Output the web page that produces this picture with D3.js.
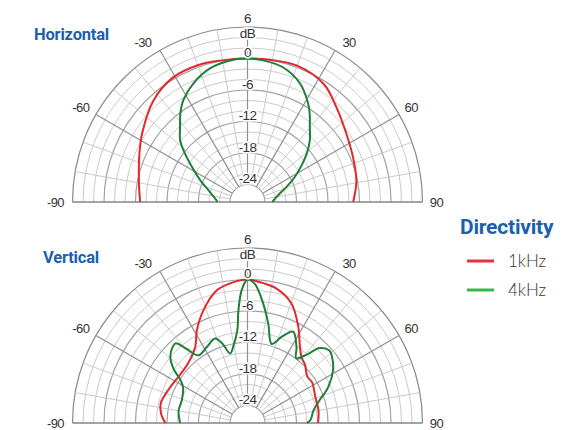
<!DOCTYPE html>
<html>
<head>
<meta charset="utf-8">
<script src="https://cdn.jsdelivr.net/npm/d3@7"></script>
<style>
  body { margin: 0; background: #fff; }
  svg { display: block; }
</style>
</head>
<body>
<svg id="chart"></svg>
<script>
const width = 581;
const height = 430;

// grid / ticks
const dbLabels = [0, -6, -12, -18, -24];
const angleLabels = [-90, -60, -30, 30, 60, 90];
const seriesNames = ['1kHz', '4kHz'];
const seriesColors = ['#e2282f', '#1f7f36'];
const legendColors = ['#e8323a', '#3db44c'];

// Horizontal, 1kHz
const hAng1k = [-90, -84, -75, -66, -57, -43, -31, -20, -11, 0, 9, 20, 33, 43, 55, 67, 79, 90];
const hDb1k  = [-6.9, -6.6, -5.9, -4.8, -3.4, -1.0, 0.3, 0.4, 0.1, 0, 0.1, 0.3, -0.6, -2.55, -4.4, -5.5, -6.2, -7.2];

// Horizontal, 4kHz
const hAng4k = [-90, -88, -73, -65.2, -57.7, -52.1, -47.4, -41.9, -37, -32.2, -24.5, -15.7, -5.7, 0,
                6.2, 14.7, 23.8, 31.6, 35.7, 39.8, 45.2, 50.6, 55.7, 62, 68.7, 77.2, 86.7, 90];
const hDb4k  = [-21.6, -21.5, -19.5, -17.4, -14.8, -12.2, -9.9, -8.1, -6.1, -4.4, -2.5, -0.9, -0.1, 0,
                -0.2, -0.8, -2.6, -5.3, -7.0, -8.8, -10.6, -12.7, -14.8, -17.1, -19.3, -21.3, -22.4, -22.6];

// Vertical, 1kHz
const vAng1k = [-90, -84, -77, -67, -56, -45, -34.5, -28.6, -21.4, -13, -6, 0, 4, 12, 20, 27.6, 34, 39.3, 45, 52, 58, 69, 80, 90];
const vDb1k  = [-11.7, -10.8, -10.4, -11.0, -11.5, -11.3, -9.75, -7.2, -4.3, -1.4, -0.4, 0, -0.3, -1.1, -3.0, -6.5, -9.5, -11.1, -11.8, -12.9, -12.8, -13.5, -13.6, -13.9];

// Vertical, 4kHz
const vAng4k = [-90, -80, -71, -61, -57, -54, -49.5, -44.5, -42, -39.5, -36, -28, -21, -17.5, -14, -10.5, -6.3, -4.6, -2.5, 0,
                3, 7.5, 11.8, 17, 21.6, 26.5, 32.8, 37, 41, 44, 48.5, 52, 58, 66, 72.4, 79, 87, 90];
const vDb4k  = [-14.5, -14.0, -14.1, -13.3, -12.0, -10.0, -8.0, -7.0, -6.9, -9.0, -11.4, -10.9, -10.1, -11.5, -13.7, -12.5, -9.6, -5.8, -2.0, 0,
                -0.8, -4.4, -8.0, -11.6, -9.7, -7.9, -10.1, -11.9, -10.0, -7.5, -6.5, -6.9, -8.1, -10.5, -12.9, -14.5, -15.3, -16.0];

const svg = d3.select('#chart')
            .attr('width', width)
            .attr('height', height);

const r = d3.scaleLinear().domain([-24, 6]).range([17.5, 175]);
const rad = a => a * Math.PI / 180;

const numFont = '"Liberation Sans", Arial, sans-serif';
const titleColor = '#1b5fae';

function zip(angles, values) {
    return angles.map((a, i) => ({a: a, v: values[i]}));
}

function drawPolar(cx, cy, title, titleX, titleY, series) {
    const g = svg.append('g').attr('transform', `translate(${cx}, ${cy})`);

    // rings every 2 dB
    d3.range(-24, 7, 2).forEach(db => {
        const p = d3.path();
        p.arc(0, 0, r(db), Math.PI, 2 * Math.PI);
        const major = db % 6 === 0;
        g.append('path')
            .attr('d', p.toString())
            .attr('fill', 'none')
            .attr('stroke', db === 6 ? '#8a8a8a' : (major ? '#a2a2a2' : '#c4c4c4'))
            .attr('stroke-width', major ? 1.2 : 0.9);
    });

    // spokes every 10 degrees
    d3.range(-80, 81, 10).forEach(a => {
        const major = a % 30 === 0;
        g.append('line')
            .attr('x1', r(-24) * Math.sin(rad(a)))
            .attr('y1', -r(-24) * Math.cos(rad(a)))
            .attr('x2', r(6) * Math.sin(rad(a)))
            .attr('y2', -r(6) * Math.cos(rad(a)))
            .attr('stroke', major ? '#909090' : '#c4c4c4')
            .attr('stroke-width', major ? 1.2 : 0.9);
    });

    // baseline
    g.append('line')
        .attr('x1', -r(6)).attr('x2', r(6))
        .attr('y1', 0).attr('y2', 0)
        .attr('stroke', '#858585')
        .attr('stroke-width', 1.4);

    // curves
    const line = d3.lineRadial()
        .angle(d => rad(d.a))
        .radius(d => r(d.v))
        .curve(d3.curveCatmullRom.alpha(0.5));

    series.forEach((s, i) => {
        g.append('path')
            .datum(s)
            .attr('d', line)
            .attr('fill', 'none')
            .attr('stroke', seriesColors[i])
            .attr('stroke-width', 2);
    });

    // dB labels on the centre line
    const lab = g.append('g')
        .attr('font-family', numFont)
        .attr('font-size', 13.5)
        .attr('fill', '#333')
        .attr('text-anchor', 'middle')
        .attr('letter-spacing', -0.6)
        .attr('stroke', '#fff')
        .attr('stroke-width', 3)
        .attr('paint-order', 'stroke');

    dbLabels.forEach(db => {
        lab.append('text')
            .attr('x', 0)
            .attr('y', -r(db) - 1.5)
            .text(db === 0 ? '0' : '-' + Math.abs(db));
    });
    lab.append('text').attr('x', 0).attr('y', -r(4) + 0.5).text('dB');
    lab.append('text').attr('x', 0).attr('y', -r(6) - 4).attr('stroke', 'none').text('6');

    // angle labels
    angleLabels.forEach(a => {
        let aa = Math.abs(a) === 30 ? Math.sign(a) * 32.5 : a;
        const rr = 189;
        g.append('text')
            .attr('x', rr * Math.sin(rad(aa)) + (a < 0 ? -3 : 0))
            .attr('y', -rr * Math.cos(rad(aa)))
            .attr('dy', '0.36em')
            .attr('text-anchor', 'middle')
            .attr('font-family', numFont)
            .attr('font-size', 13)
            .attr('letter-spacing', -0.6)
            .attr('fill', '#333')
            .text(a);
    });

    svg.append('text')
        .attr('x', titleX)
        .attr('y', titleY)
        .attr('font-family', 'Roboto, sans-serif')
        .attr('font-weight', 700)
        .attr('font-size', 16.5)
        .attr('letter-spacing', -0.2)
        .attr('fill', titleColor)
        .text(title);
}

drawPolar(247.5, 202, 'Horizontal', 34, 39.5, [zip(hAng1k, hDb1k), zip(hAng4k, hDb4k)]);
drawPolar(247.5, 423, 'Vertical', 43, 263, [zip(vAng1k, vDb1k), zip(vAng4k, vDb4k)]);

// legend
svg.append('text')
    .attr('x', 460)
    .attr('y', 234)
    .attr('font-family', 'Roboto, sans-serif')
    .attr('font-weight', 700)
    .attr('font-size', 21)
    .attr('letter-spacing', -0.2)
    .attr('fill', titleColor)
    .text('Directivity');

seriesNames.forEach((name, i) => {
    const y = 261 + i * 29;
    svg.append('line')
        .attr('x1', 467).attr('x2', 494)
        .attr('y1', y).attr('y2', y)
        .attr('stroke', legendColors[i])
        .attr('stroke-width', 3);
    svg.append('text')
        .attr('x', 508)
        .attr('y', y + 6)
        .attr('font-family', 'Lato, sans-serif')
        .attr('font-weight', 300)
        .attr('font-size', 17)
        .attr('fill', '#333')
        .text(name);
});
</script>
</body>
</html>
